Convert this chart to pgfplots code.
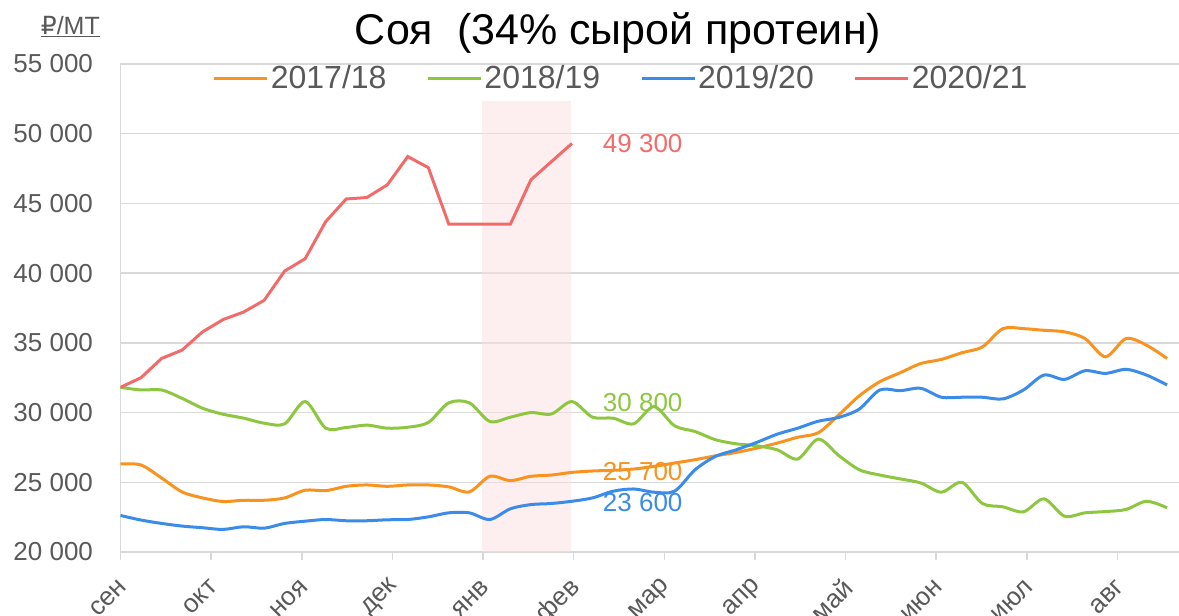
\documentclass[border=0pt]{standalone}
\usepackage{fontspec}
\setmainfont{Liberation Sans}
\newfontfamily\dejavu{DejaVu Sans}
\usepackage{pgfplots}
\pgfplotsset{compat=1.18}
\definecolor{cor}{HTML}{F7931E}
\definecolor{cgr}{HTML}{8DC63F}
\definecolor{cbl}{HTML}{3B8BE8}
\definecolor{crd}{HTML}{F26B6B}
\definecolor{cgrid}{HTML}{D9D9D9}
\definecolor{ctxt}{HTML}{595959}
\definecolor{cband}{HTML}{FBDFDF}

\pgfplotstableread{
i v
0 26310
1 26240
2 25310
3 24310
4 23880
5 23620
6 23710
7 23710
8 23880
9 24430
10 24400
11 24710
12 24810
13 24710
14 24810
15 24810
16 24670
17 24310
18 25430
19 25120
20 25430
21 25520
22 25710
23 25810
24 25860
25 25950
26 26140
27 26380
28 26620
29 26900
30 27140
31 27450
32 27810
33 28230
34 28550
35 29830
36 31200
37 32210
38 32860
39 33520
40 33810
41 34290
42 34710
43 36020
44 36020
45 35900
46 35790
47 35310
48 34000
49 35310
50 34830
51 33880
}\orangedata

\pgfplotstableread{
i v
0 31810
1 31620
2 31620
3 31020
4 30310
5 29880
6 29600
7 29240
8 29190
9 30790
10 28880
11 28930
12 29100
13 28880
14 28950
15 29290
16 30700
17 30700
18 29360
19 29670
20 30000
21 29900
22 30790
23 29670
24 29600
25 29190
26 30430
27 29050
28 28640
29 28050
30 27760
31 27620
32 27330
33 26670
34 28100
35 26920
36 25900
37 25520
38 25240
39 24950
40 24290
41 25000
42 23480
43 23240
44 22880
45 23810
46 22570
47 22810
48 22900
49 23050
50 23640
51 23170
}\greendata

\pgfplotstableread{
i v
0 22620
1 22290
2 22050
3 21860
4 21740
5 21620
6 21810
7 21710
8 22050
9 22210
10 22330
11 22240
12 22240
13 22310
14 22330
15 22520
16 22810
17 22810
18 22330
19 23100
20 23400
21 23480
22 23640
23 23880
24 24360
25 24520
26 24290
27 24360
28 25900
29 26860
30 27330
31 27860
32 28450
33 28880
34 29380
35 29650
36 30250
37 31620
38 31570
39 31740
40 31100
41 31100
42 31100
43 30980
44 31620
45 32690
46 32380
47 33000
48 32810
49 33100
50 32690
51 31980
}\bluedata

\pgfplotstableread{
i v
0 31810
1 32500
2 33880
3 34480
4 35790
5 36670
6 37210
7 38050
8 40150
9 41040
10 43700
11 45320
12 45420
13 46330
14 48360
15 47570
16 43510
17 43510
18 43510
19 43510
20 46690
21 48000
22 49300
}\reddata

\begin{document}
\begin{tikzpicture}[x=1bp,y=1bp]
\begin{axis}[
  scale only axis,
  width=1058.5bp, height=488bp,
  xmin=0, xmax=51.58, ymin=20000, ymax=55000,
  axis x line=bottom, axis y line=left,
  axis line style={-, draw=cgrid, line width=1.5bp},
  ymajorgrids, grid style={draw=cgrid, line width=1.5bp},
  scaled y ticks=false,
  ytick={20000,25000,30000,35000,40000,45000,50000,55000},
  yticklabels={20 000,25 000,30 000,35 000,40 000,45 000,50 000,55 000},
  ytick style={draw=none},
  yticklabel style={text=ctxt, font=\fontsize{26bp}{30bp}\selectfont, xshift=-16bp},
  xtick={0,4.41667,8.83333,13.25,17.66667,22.08333,26.5,30.91667,35.33333,39.75,44.16667,48.58333},
  xticklabels={сен,окт,ноя,дек,янв,фев,мар,апр,май,июн,июл,авг},
  tick align=outside, major tick length=8bp,
  xtick style={draw=cgrid, line width=1.5bp},
  xticklabel style={xshift=5bp, yshift=-21bp, rotate=45, anchor=east, text=ctxt, font=\fontsize{26bp}{30bp}\selectfont},
  legend style={at={(0.473,0.971)}, anchor=center, draw=none, fill=none,
    legend columns=-1, font=\fontsize{32bp}{36bp}\selectfont, text=ctxt,
    /tikz/every even column/.append style={column sep=38bp}},
  legend image code/.code={\draw[#1] (0bp,0bp) -- (53bp,0bp);},
]
\addplot[fill=cband, fill opacity=0.5, draw=none, forget plot] coordinates {(17.6,20000) (21.95,20000) (21.95,52350) (17.6,52350)} -- cycle;
\addplot[cor, line width=3bp, smooth] table[x=i,y=v] {\orangedata};
\addlegendentry{2017/18}
\addplot[cgr, line width=3bp, smooth] table[x=i,y=v] {\greendata};
\addlegendentry{2018/19}
\addplot[cbl, line width=3bp, smooth] table[x=i,y=v] {\bluedata};
\addlegendentry{2019/20}
\addplot[crd, line width=3bp] table[x=i,y=v] {\reddata};
\addlegendentry{2020/21}
\node[anchor=west, inner sep=0, text=crd, font=\fontsize{26bp}{30bp}\selectfont] at (axis cs:23.5,49300) {49 300};
\node[anchor=west, inner sep=0, text=cgr, font=\fontsize{26bp}{30bp}\selectfont] at (axis cs:23.5,30750) {30 800};
\node[anchor=west, inner sep=0, text=cor, font=\fontsize{26bp}{30bp}\selectfont] at (axis cs:23.5,25750) {25 700};
\node[anchor=west, inner sep=0, text=cbl, font=\fontsize{26bp}{30bp}\selectfont] at (axis cs:23.5,23550) {23 600};
\coordinate (o) at (rel axis cs:0,0);
\end{axis}
\node[anchor=base, inner sep=0, font=\fontsize{43bp}{48bp}\selectfont] at ([shift={(497.5bp,507bp)}]o) {Соя\ \ (34\% сырой протеин)};
\node[anchor=base east, inner sep=0, text=ctxt, font=\fontsize{25bp}{30bp}\selectfont] at ([shift={(-20.5bp,517bp)}]o) {\underline{{\dejavu ₽}/МТ}};
\pgfresetboundingbox
\useasboundingbox ([shift={(-120.5bp,-64bp)}]o) rectangle ([shift={(1058.5bp,552bp)}]o);
\end{tikzpicture}
\end{document}
